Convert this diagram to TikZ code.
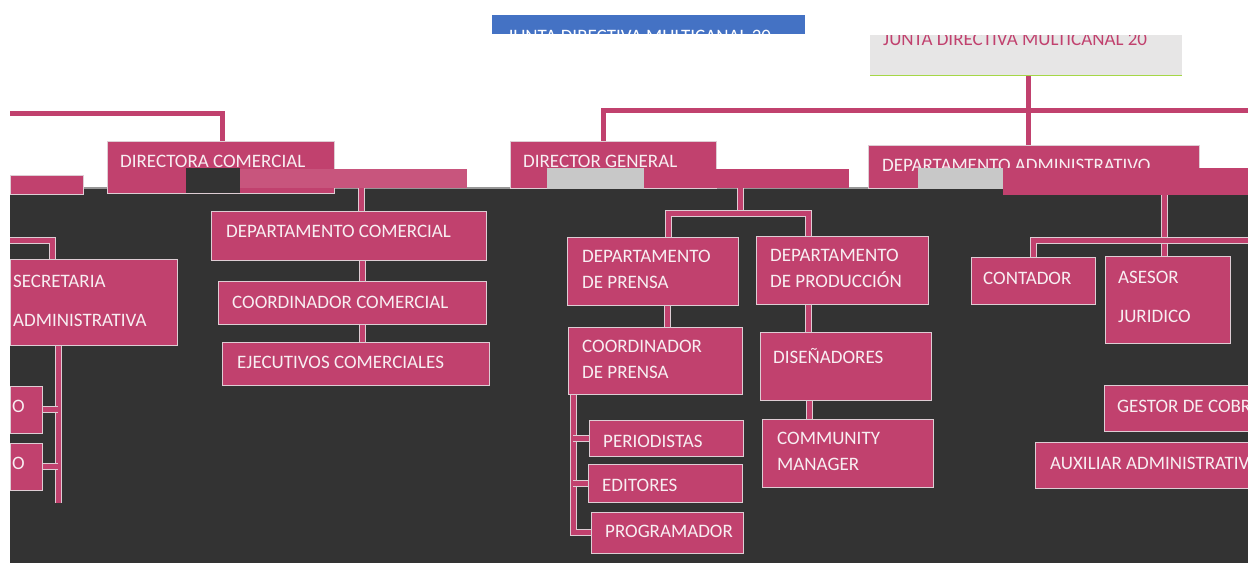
\documentclass[tikz,border=0pt]{standalone}
\usepackage{fontspec}
\setmainfont{Carlito}
\pgfdeclarelayer{bg}\pgfdeclarelayer{lines}\pgfsetlayers{bg,lines,main}
\definecolor{pinkc}{RGB}{193,65,110}
\definecolor{barpink}{RGB}{200,85,125}
\definecolor{darkbg}{RGB}{51,51,51}
\definecolor{boxedge}{RGB}{222,205,212}
\definecolor{txt}{RGB}{248,238,242}
\definecolor{blueb}{RGB}{68,114,196}
\definecolor{grayb}{RGB}{231,230,230}
\definecolor{glitchgray}{RGB}{200,200,200}
\definecolor{edgegreen}{RGB}{165,215,70}
\definecolor{topline}{RGB}{150,150,150}
\tikzset{
 box/.style={draw=boxedge, line width=0.8pt, fill=pinkc, inner sep=0pt, anchor=north west, rectangle},
 plainbox/.style={fill=#1, inner sep=0pt, anchor=north west, rectangle},
 lbl/.style={anchor=base west, inner sep=0pt, text=txt, font=\fontsize{19}{23}\selectfont},
 conn/.style={draw=pinkc, line width=5pt, preaction={draw=boxedge, line width=7pt}},
 connw/.style={draw=pinkc, line width=5pt},
}
\newcommand\bx[6][box]{\node[#1, minimum width={#5-#3}, minimum height={#6-#4}] (#2) at (#3,#4) {};}
\begin{document}
\begin{tikzpicture}[x=1pt,y=-1pt]
\useasboundingbox (0,0) rectangle (1248,563);
\clip (0,0) rectangle (1248,563);
\begin{pgfonlayer}{bg}
  \fill[white] (0,0) rectangle (1248,563);
  \fill[darkbg] (10,189) rectangle (1248,563);
  \draw[topline, line width=2pt] (10,188) -- (1248,188);
\end{pgfonlayer}

% ---- top area ----
\bx[plainbox=blueb]{jd1}{492}{15}{805}{34}
\begin{scope}
  \clip (492,15) rectangle (805,34);
  \node[lbl, text=white] (jd1-t) at (507,42.5) {JUNTA DIRECTIVA MULTICANAL 20};
\end{scope}
\bx[plainbox=grayb]{jd2}{870}{35}{1182}{75}
\begin{scope}
  \clip (870,35) rectangle (1182,75);
  \node[lbl, text=pinkc] (jd2-t) at (883,45.5) {JUNTA DIRECTIVA MULTICANAL 20};
\end{scope}
\draw[edgegreen, line width=1.2pt] (jd2.south west) -- (jd2.south east);

\bx{dcom}{107}{141}{334}{193}
\bx{dg}{510}{141}{716}{188}
\bx{da}{868}{145}{1199}{188}
\bx{lpart}{10}{175}{83}{194}
\node[lbl] (dcom-t) at (120,167) {DIRECTORA COMERCIAL};
\node[lbl] (dg-t) at (523,167) {DIRECTOR GENERAL};
\node[lbl] (da-t) at (882,171) {DEPARTAMENTO ADMINISTRATIVO};

% glitch blocks
\bx[plainbox=darkbg]{gb1}{186}{168}{240}{193}
\bx[plainbox=barpink]{bar1}{240}{169}{467}{188}
\bx[plainbox=glitchgray]{gb2}{547}{168}{644}{189}
\bx[plainbox=pinkc]{bar2}{653}{169}{849}{188}
\bx[plainbox=glitchgray]{gb3}{918}{168}{1003}{189}
\bx[plainbox=pinkc]{bar3}{1003}{168}{1260}{195}

% ---- comercial branch ----
\bx{dcomer}{211}{211}{486}{260}
\bx{ccom}{218}{281}{486}{324}
\bx{ejec}{222}{342}{489}{385}
\node[lbl] (dcomer-t) at (226,237) {DEPARTAMENTO COMERCIAL};
\node[lbl] (ccom-t) at (232,308) {COORDINADOR COMERCIAL};
\node[lbl] (ejec-t) at (237,368) {EJECUTIVOS COMERCIALES};

% ---- left branch ----
\bx{sec}{10}{259}{177}{345}
\bx{o1}{10}{386}{42}{433}
\bx{o2}{10}{443}{42}{490}
\node[lbl] (sec-t1) at (13,287) {SECRETARIA};
\node[lbl] (sec-t2) at (13,326) {ADMINISTRATIVA};
\node[lbl] (o1-t) at (12,412) {O};
\node[lbl] (o2-t) at (12,469) {O};

% ---- general branch ----
\bx{dp}{567}{237}{738}{305}
\bx{dpr}{756}{236}{928}{304}
\bx{cp}{568}{327}{742}{394}
\bx{peri}{589}{420}{743}{456}
\bx{edi}{588}{464}{742}{502}
\bx{prog}{591}{512}{743}{553}
\bx{dis}{760}{332}{931}{400}
\bx{cm}{762}{419}{933}{487}
\node[lbl] (dp-t1) at (582,262) {DEPARTAMENTO};
\node[lbl] (dp-t2) at (582,288) {DE PRENSA};
\node[lbl] (dpr-t1) at (770,261) {DEPARTAMENTO};
\node[lbl] (dpr-t2) at (770,287) {DE PRODUCCIÓN};
\node[lbl] (cp-t1) at (582,352) {COORDINADOR};
\node[lbl] (cp-t2) at (582,378) {DE PRENSA};
\node[lbl] (peri-t) at (603,447) {PERIODISTAS};
\node[lbl] (edi-t) at (602,491) {EDITORES};
\node[lbl] (prog-t) at (605,537) {PROGRAMADOR};
\node[lbl] (dis-t) at (773,363) {DISEÑADORES};
\node[lbl] (cm-t1) at (777,444) {COMMUNITY};
\node[lbl] (cm-t2) at (777,470) {MANAGER};

% ---- administrativo branch ----
\bx{cont}{971}{257}{1095}{304}
\bx{ase}{1105}{256}{1230}{343}
\bx{ges}{1104}{385}{1260}{431}
\bx{aux}{1035}{442}{1260}{488}
\node[lbl] (cont-t) at (983,284) {CONTADOR};
\node[lbl] (ase-t1) at (1118,283) {ASESOR};
\node[lbl] (ase-t2) at (1118,322) {JURIDICO};
\node[lbl] (ges-t) at (1117,412) {GESTOR DE COBR};
\node[lbl] (aux-t) at (1050,469) {AUXILIAR ADMINISTRATIV};

% ---- connectors ----
\coordinate (hr) at (1260,110);
\coordinate (hl) at (10,113);
\coordinate (hl2) at (10,240);
\coordinate (sv) at (58,503);
\coordinate (mj) at (740,213);
\coordinate (hr2) at (1260,240);
\begin{pgfonlayer}{lines}
  \draw[connw] (1028,0 |- jd2.south) -- (1028,0 |- da.north);
  \draw[connw] (603,0 |- dg.north) |- (hr);
  \draw[connw] (hl) -| (222,0 |- dcom.north);
  \draw[conn] (361,0 |- bar1.south) -- (361,0 |- dcomer.north);
  \draw[conn] (362,0 |- dcomer.south) -- (362,0 |- ccom.north);
  \draw[conn] (362,0 |- ccom.south) -- (362,0 |- ejec.north);
  \draw[conn] (hl2) -| (52,0 |- sec.north);
  \draw[conn] (58,0 |- sec.south) -- (sv);
  \draw[conn] (36,0 |- o1.east) -- (58,0 |- o1.east);
  \draw[conn] (36,0 |- o2.east) -- (58,0 |- o2.east);
  \draw[conn] (740,0 |- bar2.south) -- (mj);
  \draw[conn] (668,0 |- dp.north) |- (mj) -| (808,0 |- dpr.north);
  \draw[conn] (667,0 |- dp.south) -- (667,0 |- cp.north);
  \draw[conn] (573,0 |- cp.south) |- (prog.west);
  \draw[conn] (573,0 |- peri.west) -- (peri.west);
  \draw[conn] (573,0 |- edi.west) -- (edi.west);
  \draw[conn] (808,0 |- dpr.south) -- (808,0 |- dis.north);
  \draw[conn] (809,0 |- dis.south) -- (809,0 |- cm.north);
  \draw[conn] (1164,0 |- bar3.south) -- (1164,0 |- ase.north);
  \draw[conn] (hr2) -| (1033,0 |- cont.north);
\end{pgfonlayer}
\end{tikzpicture}
\end{document}
